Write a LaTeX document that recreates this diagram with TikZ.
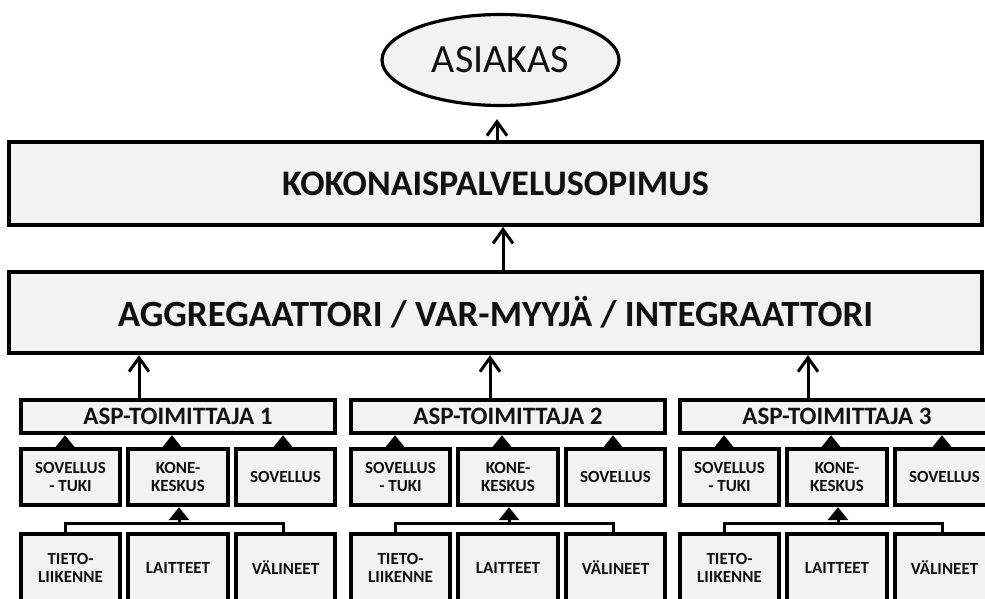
\documentclass[tikz,border=0pt]{standalone}
\usepackage{fontspec}
\setmainfont{Carlito}
\usetikzlibrary{arrows.meta,shapes.geometric,calc}
\definecolor{boxfill}{HTML}{F2F2F2}
\definecolor{ink}{HTML}{111111}

\begin{document}
\begin{tikzpicture}[x=1pt,y=-1pt,
  box/.style={draw=black, line width=3.8pt, fill=boxfill, rectangle, inner sep=0pt,
              text=ink, align=center},
  bigbox/.style={box, minimum width=973.5pt, minimum height=83pt},
  aspbox/.style={box, minimum width=314.5pt, minimum height=33.5pt,
                 font=\bfseries\fontsize{25}{25}\selectfont},
  subbox/.style={box, minimum width=99.5pt, minimum height=56.5pt,
                 font=\bfseries\fontsize{17}{18}\selectfont},
  lowbox/.style={subbox, minimum height=68.5pt},
  barb/.style={line width=3pt, -{Straight Barb[length=14pt,width=20pt]}},
  tri/.style={line width=3pt, -{Triangle[length=13pt,width=20pt]}},
  link/.style={line width=3pt}
]
\useasboundingbox (0,0) rectangle (985,599);
\fill[white] (0,0) rectangle (985,599);
\clip (0,0) rectangle (985,599);

% top level
\node[ellipse, draw=black, line width=3.2pt, fill=boxfill, minimum width=237pt,
      minimum height=91pt, inner sep=0pt, text=ink,
      font=\fontsize{40}{40}\selectfont] (asiakas) at (500.5,60) {ASIAKAS};
\node[bigbox, font=\bfseries\fontsize{36}{36}\selectfont] (kok) at (495.5,183.5)
      {KOKONAISPALVELUSOPIMUS};
\node[bigbox, minimum height=81.5pt, font=\bfseries\fontsize{37}{37}\selectfont] (agg)
      at (495.5,312.5) {AGGREGAATTORI / VAR-MYYJÄ / INTEGRAATTORI};

\coordinate (ka) at (497,0);
\coordinate (ak) at (503,0);
\draw[barb, shorten >=12pt] (kok.north -| ka) -- (asiakas.south -| ka);
\draw[barb] (agg.north -| ak) -- (kok.south -| ak);

% supplier groups
\foreach \g/\n/\u in {19/1/139, 349/2/490, 678/3/808} {
  \node[aspbox] (asp\n) at (\g+159,416.5) {ASP-TOIMITTAJA \n};
  \node[subbox] (st\n) at (\g+51.5,477) {SOVELLUS\\- TUKI};
  \node[subbox] (kk\n) at (\g+159,477) {KONE-\\KESKUS};
  \node[subbox] (sv\n) at (\g+266.5,477) {SOVELLUS};
  \node[lowbox] (tl\n) at (\g+51.5,568) {TIETO-\\LIIKENNE};
  \node[lowbox] (la\n) at (\g+159,568) {LAITTEET};
  \node[lowbox] (va\n) at (\g+266.5,568) {VÄLINEET};

  \coordinate (up\n) at (\u,0);
  \draw[barb] (asp\n.north -| up\n) -- (agg.south -| up\n);

  \draw[tri] ([xshift=-5.5pt]st\n.north) -- ([xshift=-5.5pt]st\n.north |- asp\n.south);
  \draw[tri] ([xshift=-6pt]kk\n.north) -- ([xshift=-6pt]kk\n.north |- asp\n.south);
  \draw[tri] ([xshift=-2.5pt]sv\n.north) -- ([xshift=-2.5pt]sv\n.north |- asp\n.south);

  \coordinate (bl\n) at (\g+46,523);
  \coordinate (br\n) at (\g+264,523);
  \coordinate (bm\n) at (\g+160,523);
  \draw[link] (tl\n.north -| bl\n) -- (bl\n) -- (br\n) -- (va\n.north -| br\n);
  \draw[tri] (bm\n) -- (kk\n.south -| bm\n);
}
\end{tikzpicture}
\end{document}
